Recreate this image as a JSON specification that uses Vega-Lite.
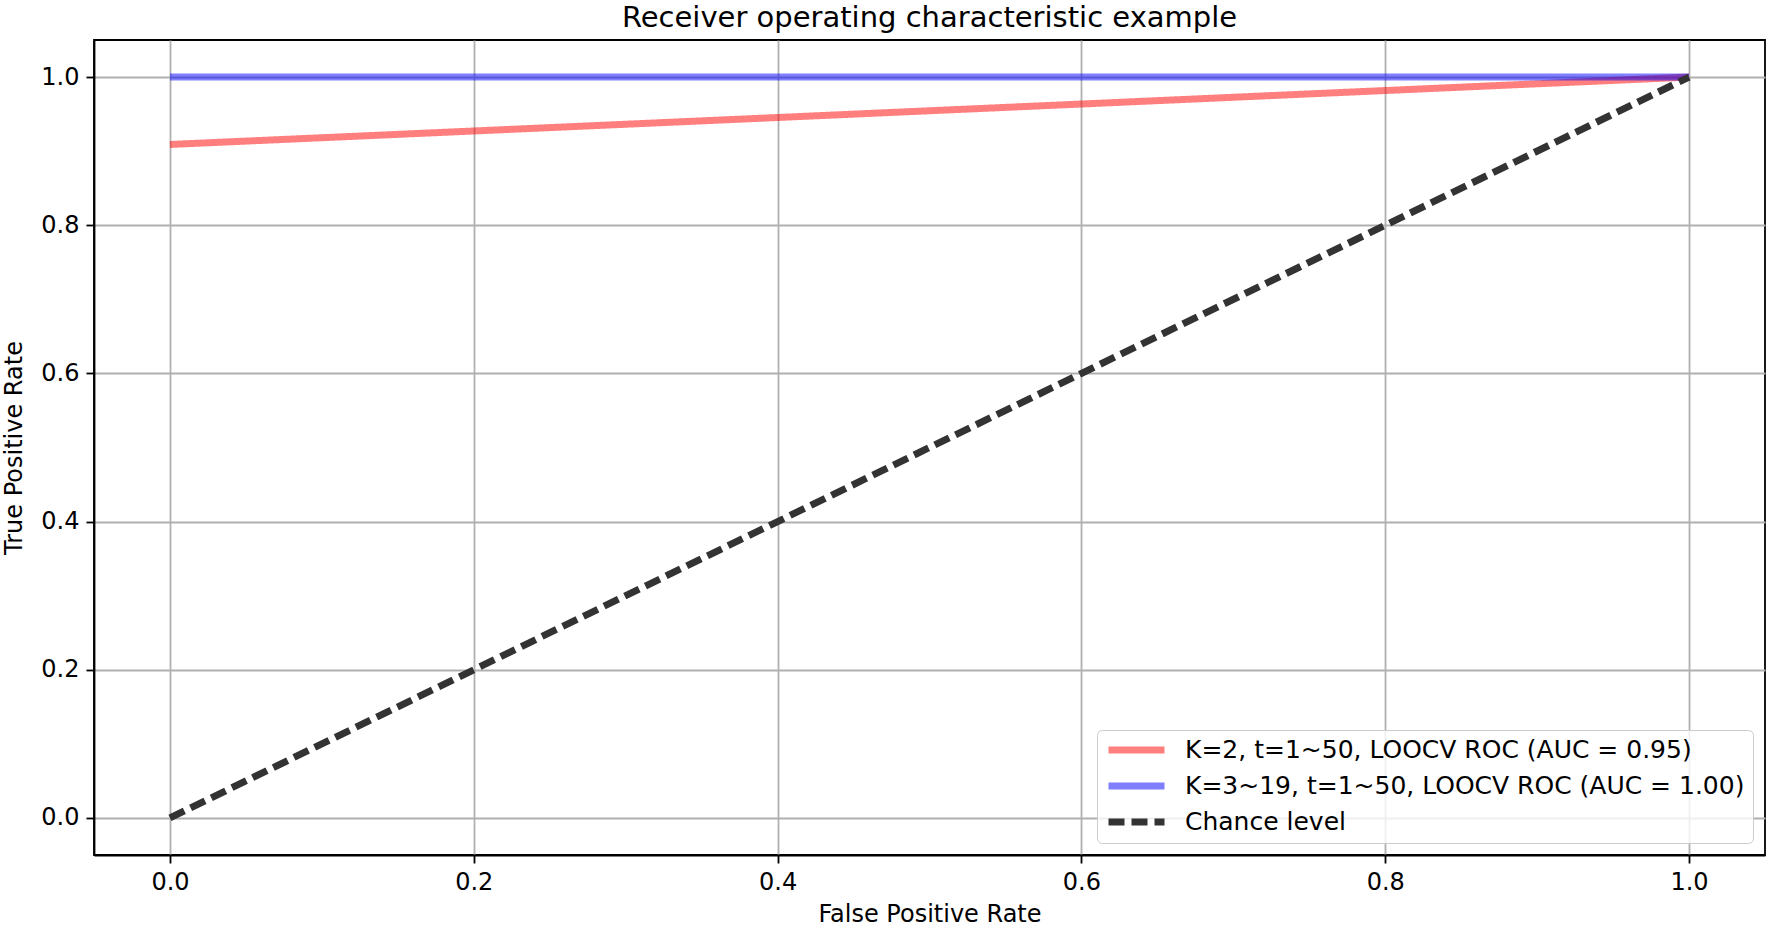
{
  "$schema": "https://vega.github.io/schema/vega-lite/v6.json",
  "width": 1671,
  "height": 815,
  "autosize": {"type": "none"},
  "padding": {"left": 94, "top": 40, "right": 5, "bottom": 74},
  "background": "white",
  "title": {
    "text": "Receiver operating characteristic example",
    "font": "DejaVu Sans",
    "fontSize": 29,
    "fontWeight": "normal",
    "color": "black",
    "anchor": "middle",
    "frame": "group",
    "offset": 7
  },
  "config": {
    "view": {"stroke": "black", "strokeWidth": 1.8},
    "axis": {
      "labelFont": "DejaVu Sans",
      "labelFontSize": 24,
      "labelColor": "black",
      "titleFont": "DejaVu Sans",
      "titleFontSize": 24,
      "titleFontWeight": "normal",
      "titleColor": "black",
      "domainColor": "black",
      "domainWidth": 1.8,
      "tickColor": "black",
      "tickWidth": 1.8,
      "tickSize": 8,
      "labelPadding": 7,
      "gridColor": "#b0b0b0",
      "gridWidth": 1.8,
      "gridOpacity": 1
    },
    "legend": {
      "labelFont": "DejaVu Sans",
      "labelFontSize": 25,
      "labelColor": "black",
      "labelLimit": 1000
    }
  },
  "data": {
    "values": [
      {"series": "K=2, t=1~50, LOOCV ROC (AUC = 0.95)", "fpr": 0, "tpr": 0.909},
      {"series": "K=2, t=1~50, LOOCV ROC (AUC = 0.95)", "fpr": 1, "tpr": 1},
      {"series": "K=3~19, t=1~50, LOOCV ROC (AUC = 1.00)", "fpr": 0, "tpr": 1},
      {"series": "K=3~19, t=1~50, LOOCV ROC (AUC = 1.00)", "fpr": 1, "tpr": 1},
      {"series": "Chance level", "fpr": 0, "tpr": 0},
      {"series": "Chance level", "fpr": 1, "tpr": 1}
    ]
  },
  "mark": {"type": "line", "strokeCap": "butt"},
  "encoding": {
    "x": {
      "field": "fpr",
      "type": "quantitative",
      "scale": {"domain": [-0.05, 1.05], "nice": false, "zero": false},
      "axis": {"values": [0, 0.2, 0.4, 0.6, 0.8, 1.0], "format": ".1f", "title": "False Positive Rate", "titlePadding": 8}
    },
    "y": {
      "field": "tpr",
      "type": "quantitative",
      "scale": {"domain": [-0.05, 1.05], "nice": false, "zero": false},
      "axis": {"values": [0, 0.2, 0.4, 0.6, 0.8, 1.0], "format": ".1f", "title": "True Positive Rate", "titlePadding": 14}
    },
    "color": {
      "field": "series",
      "type": "nominal",
      "sort": ["K=2, t=1~50, LOOCV ROC (AUC = 0.95)", "K=3~19, t=1~50, LOOCV ROC (AUC = 1.00)", "Chance level"],
      "scale": {
        "domain": ["K=2, t=1~50, LOOCV ROC (AUC = 0.95)", "K=3~19, t=1~50, LOOCV ROC (AUC = 1.00)", "Chance level"],
        "range": ["#ff0000", "#0000ff", "#333333"]
      },
      "legend": {
        "title": null,
        "orient": "bottom-right",
        "offset": 12,
        "fillColor": "rgba(255,255,255,0.8)",
        "strokeColor": "#cccccc",
        "cornerRadius": 5,
        "padding": 8,
        "rowPadding": 11,
        "clipHeight": 24,
        "symbolType": "stroke",
        "symbolSize": 3136,
        "symbolStrokeWidth": 7,
        "labelOffset": 17
      }
    },
    "opacity": {
      "field": "series",
      "type": "nominal",
      "scale": {
        "type": "ordinal",
        "domain": ["K=2, t=1~50, LOOCV ROC (AUC = 0.95)", "K=3~19, t=1~50, LOOCV ROC (AUC = 1.00)", "Chance level"],
        "range": [0.5, 0.5, 1]
      },
      "legend": null
    },
    "strokeWidth": {
      "field": "series",
      "type": "nominal",
      "scale": {
        "domain": ["K=2, t=1~50, LOOCV ROC (AUC = 0.95)", "K=3~19, t=1~50, LOOCV ROC (AUC = 1.00)", "Chance level"],
        "range": [7, 7, 4.5]
      },
      "legend": null
    },
    "strokeDash": {
      "field": "series",
      "type": "nominal",
      "scale": {
        "domain": ["K=2, t=1~50, LOOCV ROC (AUC = 0.95)", "K=3~19, t=1~50, LOOCV ROC (AUC = 1.00)", "Chance level"],
        "range": [[1, 0], [1, 0], [16, 7]]
      },
      "legend": null
    },
    "order": {"field": "fpr"}
  }
}
